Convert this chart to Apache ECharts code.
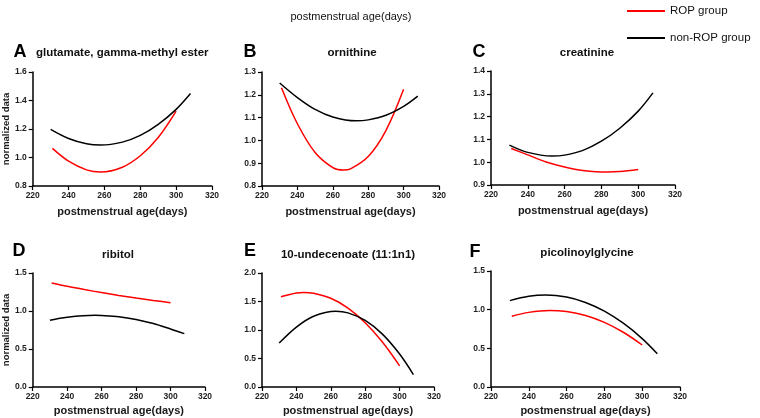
<!DOCTYPE html>
<html><head><meta charset="utf-8">
<script src="https://cdn.jsdelivr.net/npm/echarts@6/dist/echarts.min.js"></script>
<style>html,body{margin:0;padding:0;background:#fff}#c{width:760px;height:418px}</style>
</head><body><div id="c"></div>
<script>
const panelLetters = ['A','B','C','D','E','F'];
const panelTitles = ['glutamate, gamma-methyl ester','ornithine','creatinine','ribitol','10-undecenoate (11:1n1)','picolinoylglycine'];
const xAxisTicks = [220,240,260,280,300,320];
const yMins = [0.8,0.8,0.9,0,0,0];
const yMaxs = [1.6,1.3,1.4,1.5,2.0,1.5];
const ySteps = [0.2,0.1,0.1,0.5,0.5,0.5];
const seriesNames = ['ROP group','non-ROP group'];

const A_rop_x = [231,240,250,258,270,280,290,300];
const A_rop_y = [1.064,0.974,0.913,0.898,0.932,1.012,1.140,1.325];
const A_non_x = [230,240,250,258,270,280,290,300,308];
const A_non_y = [1.197,1.133,1.096,1.087,1.108,1.155,1.233,1.338,1.449];

const B_rop_x = [231,240,250,260,266,270,280,290,300];
const B_rop_y = [1.231,1.073,0.947,0.881,0.870,0.875,0.929,1.043,1.224];
const B_non_x = [230,240,250,260,273,280,290,300,308];
const B_non_y = [1.252,1.188,1.136,1.103,1.086,1.090,1.110,1.149,1.194];

const C_rop_x = [231,240,250,260,270,283,290,300];
const C_rop_y = [1.060,1.032,1.001,0.979,0.964,0.957,0.959,0.968];
const C_non_x = [230,240,253,260,270,280,290,300,308];
const C_non_y = [1.075,1.043,1.027,1.031,1.052,1.092,1.149,1.224,1.304];

const D_rop_x = [231,240,250,260,270,280,290,300];
const D_rop_y = [1.368,1.325,1.282,1.242,1.205,1.171,1.139,1.110];
const D_non_x = [230,240,256,260,270,280,290,300,308];
const D_non_y = [0.877,0.917,0.943,0.941,0.925,0.889,0.835,0.763,0.702];

const E_rop_x = [231,240,244,250,260,270,280,290,300];
const E_rop_y = [1.585,1.651,1.659,1.645,1.556,1.384,1.128,0.788,0.370];
const E_non_x = [230,240,250,263,270,280,290,300,308];
const E_non_y = [0.771,1.051,1.242,1.329,1.300,1.167,0.927,0.578,0.218];

const F_rop_x = [231,240,251,260,270,280,290,300];
const F_rop_y = [0.914,0.965,0.990,0.976,0.925,0.836,0.708,0.543];
const F_non_x = [230,240,249,260,270,280,290,300,308];
const F_non_y = [1.117,1.173,1.190,1.163,1.093,0.981,0.825,0.626,0.430];

const panelData = [
  [[A_rop_x,A_rop_y],[A_non_x,A_non_y]],
  [[B_rop_x,B_rop_y],[B_non_x,B_non_y]],
  [[C_rop_x,C_rop_y],[C_non_x,C_non_y]],
  [[D_rop_x,D_rop_y],[D_non_x,D_non_y]],
  [[E_rop_x,E_rop_y],[E_non_x,E_non_y]],
  [[F_rop_x,F_rop_y],[F_non_x,F_non_y]]
];

const FONT = 'Liberation Sans, Arial, sans-serif';
const grids = [
  {left:32, top:72, width:180, height:114},
  {left:262, top:72, width:177, height:114},
  {left:491, top:71, width:184, height:114},
  {left:31, top:273, width:174, height:114},
  {left:262, top:273, width:172, height:114},
  {left:491, top:271, width:189, height:116}
];
const letterPos = [[20,52],[250,52],[479,52],[19,251],[250,251],[475,252]];
const titlePos = [[36,53,'left'],[352,53,'center'],[587,53,'center'],[118,255,'center'],[348,255,'center'],[587,253,'center']];
const colors = ['#ff0000','#000000'];

const xAxes = [], yAxes = [], series = [], graphics = [];
grids.forEach((g,i)=>{
  const row = i < 3 ? 0 : 1;
  xAxes.push({
    type:'value', gridIndex:i, min:xAxisTicks[0], max:xAxisTicks[xAxisTicks.length-1],
    interval:xAxisTicks[1]-xAxisTicks[0],
    name:'postmenstrual age(days)', nameLocation:'middle', nameGap: row===0 ? 20 : 18,
    nameTextStyle:{fontFamily:FONT, fontWeight:'bold', fontSize:11, color:'#1a1a1a'},
    axisLine:{show:true, onZero:false, lineStyle:{color:'#000', width:1.5}},
    axisTick:{show:true, length:4, lineStyle:{color:'#000', width:1.2}},
    axisLabel:{fontFamily:FONT, fontWeight:'bold', fontSize:8.5, color:'#222', margin:5},
    splitLine:{show:false}
  });
  yAxes.push({
    type:'value', gridIndex:i, min:yMins[i], max:yMaxs[i], interval:ySteps[i],
    name:(i===0||i===3)?'normalized data':'', nameLocation:'middle', nameGap:21,
    nameTextStyle:{fontFamily:FONT, fontWeight:'bold', fontSize:9.5, color:'#1a1a1a'},
    axisLine:{show:true, onZero:false, lineStyle:{color:'#000', width:1.5}},
    axisTick:{show:true, length:4, lineStyle:{color:'#000', width:1.2}},
    axisLabel:{fontFamily:FONT, fontWeight:'bold', fontSize:8.5, color:'#222', margin:6,
      formatter:v=>v.toFixed(1)},
    splitLine:{show:false}
  });
  panelData[i].forEach((pair,k)=>{
    series.push({
      name:seriesNames[k], type:'line', xAxisIndex:i, yAxisIndex:i,
      data:pair[0].map((x,j)=>[x,pair[1][j]]),
      smooth:0.35, symbol:'none', silent:true,
      lineStyle:{color:colors[k], width:1.5}, itemStyle:{color:colors[k]}
    });
  });
  graphics.push({type:'text', x:letterPos[i][0], y:letterPos[i][1],
    style:{text:panelLetters[i], fill:'#000', font:'bold 18px '+FONT, align:'center', verticalAlign:'middle'}});
  graphics.push({type:'text', x:titlePos[i][0], y:titlePos[i][1],
    style:{text:panelTitles[i], fill:'#111', font:'bold 11.5px '+FONT, align:titlePos[i][2], verticalAlign:'middle'}});
});
graphics.push({type:'text', x:351, y:17,
  style:{text:'postmenstrual age(days)', fill:'#111', font:'11px '+FONT, align:'center', verticalAlign:'middle'}});

const chart = echarts.init(document.getElementById('c'), null, {renderer:'canvas'});
chart.setOption({
  animation:false,
  backgroundColor:'#fff',
  grid:grids,
  xAxis:xAxes,
  yAxis:yAxes,
  legend:{
    orient:'vertical', left:622, top:0, itemWidth:38, itemHeight:2, itemGap:15,
    icon:'rect', data:seriesNames,
    textStyle:{fontFamily:FONT, fontSize:11.5, color:'#111'}
  },
  graphic:graphics,
  series:series
});
</script></body></html>
